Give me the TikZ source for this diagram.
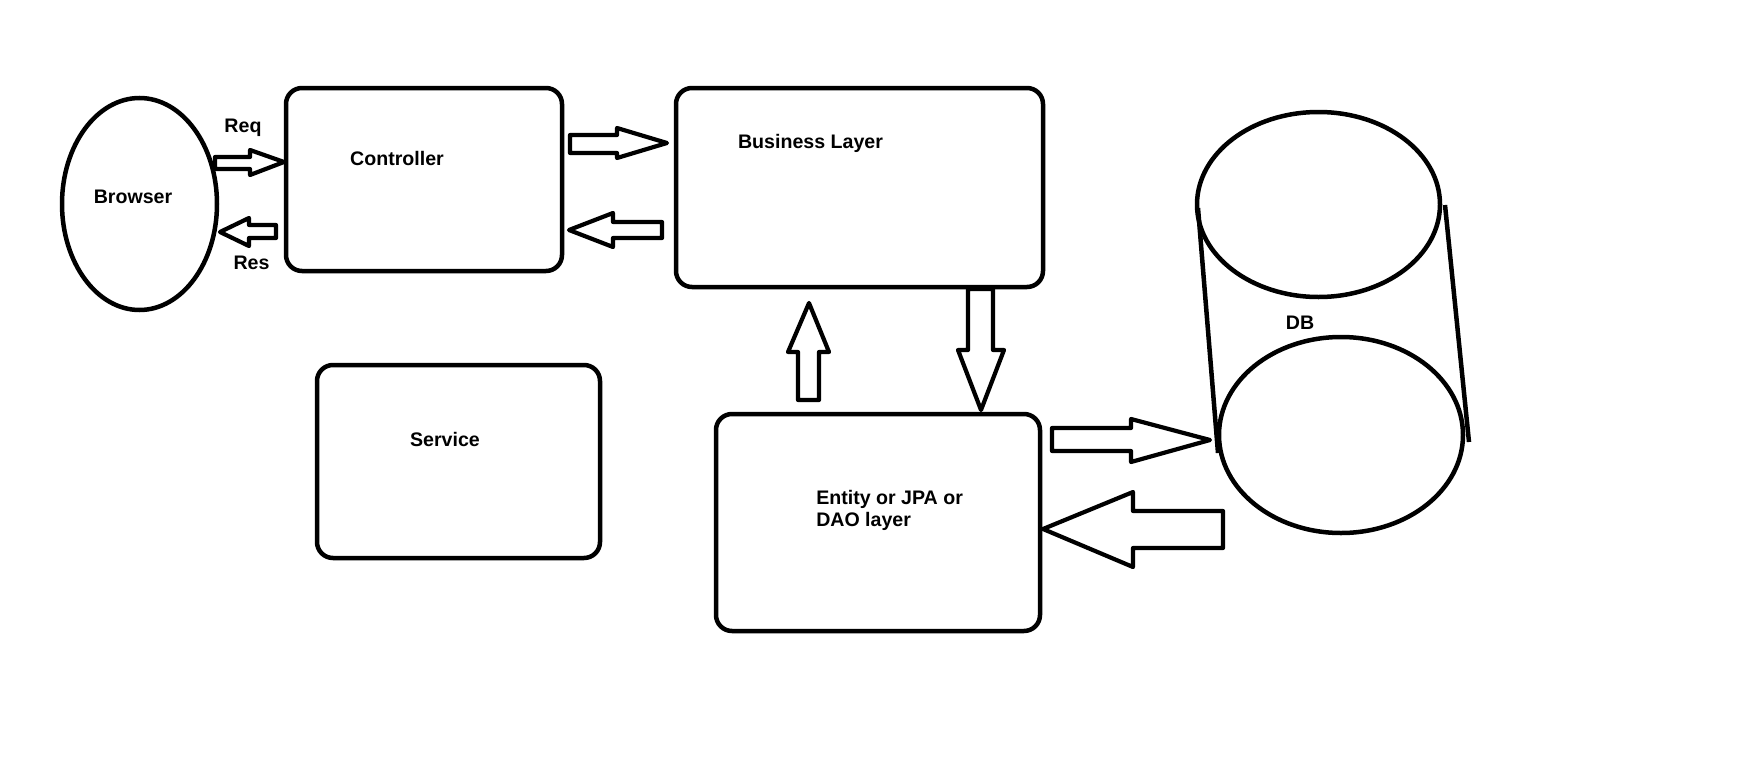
\documentclass[tikz,border=0pt]{standalone}
\usepackage{fontspec}
\setmainfont{Liberation Sans}
\usetikzlibrary{shapes.geometric}
\begin{document}
\begin{tikzpicture}[x=1pt,y=-1pt,
  line width=4.5pt,
  box/.style={draw, rounded corners=16pt, minimum width=#1},
  oval/.style={draw, ellipse, inner sep=0pt},
  lbl/.style={inner sep=0pt, font=\fontsize{19.6pt}{22pt}\selectfont\bfseries},
  blk/.style={draw, line width=4.2pt, line join=round}]
\useasboundingbox (0,0) rectangle (1762,771);
% boxes
\node[box=276pt, minimum height=183pt] (ctrl) at (424,179.5) {};
\node[box=367pt, minimum height=199pt] (bus) at (859.5,187.5) {};
\node[box=283pt, minimum height=193pt] (svc) at (458.5,461.5) {};
\node[box=324pt, minimum height=217pt] (ent) at (878,522.5) {};
% browser
\node[oval, minimum width=155pt, minimum height=212pt] (browser) at (139.5,204) {};
% DB cylinder
\node[oval, minimum width=243pt, minimum height=185pt] (dbtop) at (1318.5,204.5) {};
\node[oval, minimum width=244pt, minimum height=196pt] (dbbot) at (1341,435) {};
\coordinate (l1) at (1198,208);
\coordinate (l2) at (1218,453);
\coordinate (r1) at (1445,205);
\coordinate (r2) at (1469,442);
\draw (l1) -- (l2);
\draw (r1) -- (r2);
% labels
\node[lbl] (tbrowser) at (133,197) {Browser};
\node[lbl] (treq) at (243,128) {Req};
\node[lbl] (tres) at (251.5,263) {Res};
\node[lbl] (tctrl) at (397,158) {Controller};
\node[lbl] (tbus) at (810.5,143) {Business Layer};
\node[lbl] (tsvc) at (445,439) {Service};
\node[lbl, anchor=west, align=left] (tent) at (814,510) {Entity or JPA or\\DAO layer};
\node[lbl] (tdb) at (1300,323) {DB};
% block arrows
\draw[blk] (215,157) -- (250,157) -- (250,150) -- (284,162) -- (250,175) -- (250,169) -- (215,169) -- cycle;
\draw[blk] (220,232) -- (249,218) -- (249,225) -- (276,225) -- (276,238) -- (249,238) -- (249,246) -- cycle;
\draw[blk] (570,135) -- (617,135) -- (617,128) -- (667,143) -- (617,158) -- (617,153) -- (570,153) -- cycle;
\draw[blk] (569,230) -- (613,213) -- (613,222) -- (662,222) -- (662,238) -- (613,238) -- (613,247) -- cycle;
\draw[blk] (809,303) -- (829,352) -- (819,352) -- (819,400) -- (798,400) -- (798,352) -- (788,352) -- cycle;
\draw[blk] (968,289) -- (993,289) -- (993,350) -- (1004,350) -- (981,410) -- (958,350) -- (968,350) -- cycle;
\draw[blk] (1052,428) -- (1131,428) -- (1131,419) -- (1210,440) -- (1131,462) -- (1131,451) -- (1052,451) -- cycle;
\draw[blk] (1043,529) -- (1133,492) -- (1133,511) -- (1223,511) -- (1223,548) -- (1133,548) -- (1133,567) -- cycle;
\end{tikzpicture}
\end{document}
